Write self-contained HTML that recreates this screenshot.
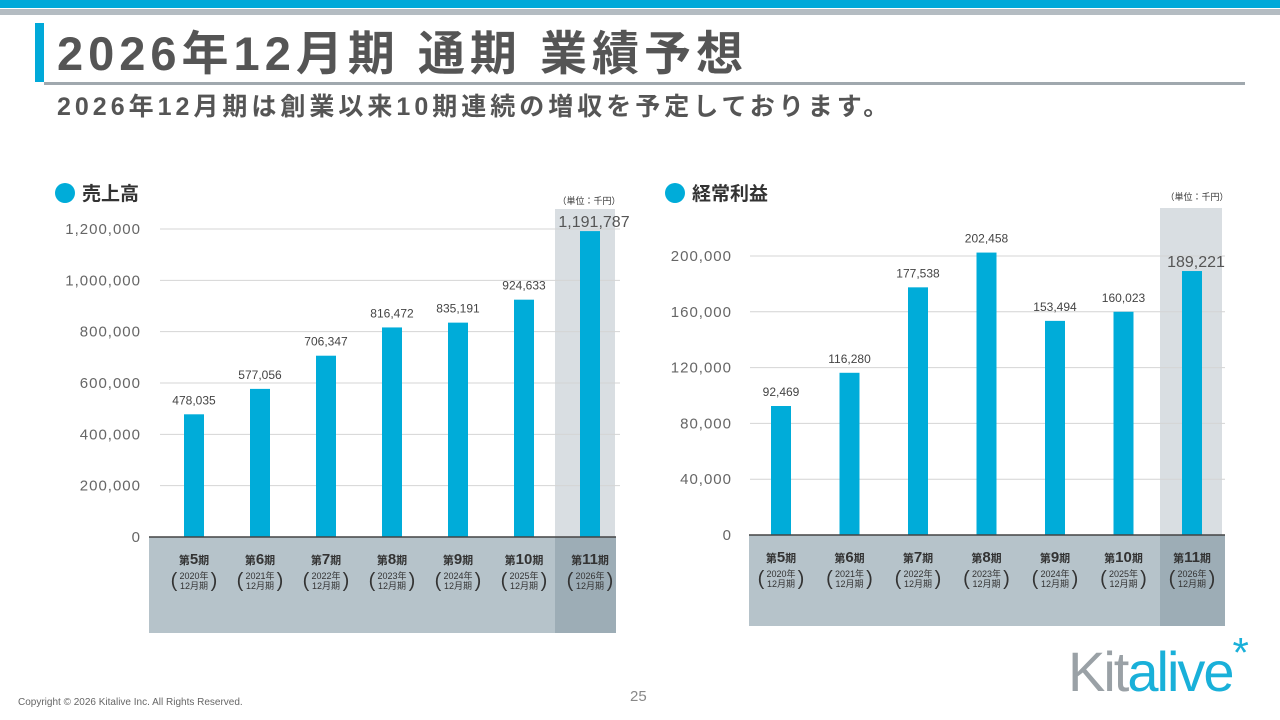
<!DOCTYPE html>
<html><head><meta charset="utf-8">
<style>
body{margin:0;width:1280px;height:720px;position:relative;background:#fff;overflow:hidden;font-family:"Liberation Sans","Noto Sans CJK JP",sans-serif;color:#555}
.abs{position:absolute}
</style></head>
<body>
<div class="abs" style="left:0;top:0;width:1280px;height:8px;background:#00a9d9"></div>
<div class="abs" style="left:0;top:9px;width:1280px;height:6px;background:#b4bcc2"></div>
<div class="abs" style="left:35px;top:23px;width:9px;height:59px;background:#00a9d9"></div>
<div class="abs" style="left:44px;top:82px;width:1201px;height:3px;background:#a0a8ae"></div>
<div class="abs" style="left:57px;top:24px;font-size:47px;font-weight:bold;color:#555;line-height:60px;white-space:nowrap;letter-spacing:5px">2026年12月期 通期 業績予想</div>
<div class="abs" style="left:57px;top:90px;font-size:25px;font-weight:bold;color:#555;line-height:34px;white-space:nowrap;letter-spacing:4px">2026年12月期は創業以来10期連続の増収を予定しております。</div>

<svg class="abs" style="left:0;top:0" width="1280" height="720" id="charts"></svg>

<div class="abs" style="left:18px;top:697px;font-size:10px;color:#666">Copyright © 2026 Kitalive Inc. All Rights Reserved.</div>
<div class="abs" style="left:630px;top:688px;font-size:15px;color:#888">25</div>
<div class="abs" style="left:1068px;top:642px;font-size:56px;line-height:60px;letter-spacing:-2px;white-space:nowrap"><span style="color:#9aa1a6">Kit</span><span style="color:#19b0d9">alive</span><span style="color:#19b0d9;font-size:42px;position:relative;top:-24px">*</span></div>

<script>
const categories=["5","6","7","8","9","10","11"];
const years=["2020","2021","2022","2023","2024","2025","2026"];
const salesValues=[478035,577056,706347,816472,835191,924633,1191787];
const salesTicks=[0,200000,400000,600000,800000,1000000,1200000];
const profitValues=[92469,116280,177538,202458,153494,160023,189221];
const profitTicks=[0,40000,80000,120000,160000,200000];

const svg=document.getElementById('charts');
const NS='http://www.w3.org/2000/svg';
function mk(tag,attrs,text){const e=document.createElementNS(NS,tag);for(const k in attrs)e.setAttribute(k,attrs[k]);if(text!==undefined)e.textContent=text;svg.appendChild(e);return e;}
const fmt=v=>v.toLocaleString('en-US');

function chart(o){
  const y=v=>o.y0-(v/o.max)*(o.y0-o.yTop);
  const x=i=>o.x0+o.step*i;
  let e=mk('rect',{x:o.hx,y:o.hy,width:o.hw,height:o.y0-o.hy,fill:'#d9dee2'});
  
  
  o.ticks.forEach(t=>{
    if(t>0){let g=mk('line',{x1:o.gx1,x2:o.gx2,y1:y(t),y2:y(t),stroke:'#d4d4d4','stroke-width':1});
    
    }
    let l=mk('text',{x:o.tx,y:y(t)+5,'text-anchor':'end','font-size':15,'letter-spacing':1,fill:'#666'},fmt(t));
    
    
  });
  e=mk('rect',{x:o.bx,y:o.y0,width:o.bw,height:o.bh,fill:'#b6c3ca'});
  
  
  e=mk('rect',{x:o.hx,y:o.y0,width:o.bx+o.bw-o.hx,height:o.bh,fill:'#9dadb6'});
  
  
  o.values.forEach((v,i)=>{
    let b=mk('rect',{x:x(i)-10,y:y(v),width:20,height:o.y0-y(v),fill:'#00acd9'});
    
    
    const last=i===o.values.length-1;
    let t=mk('text',{x:x(i)+(last?4:0),y:y(v)-(last?4:10),'text-anchor':'middle','font-size':last?16:12,fill:last?'#555':'#444'},fmt(v));
    
    
    t=mk('text',{x:x(i),y:o.y0+27,'text-anchor':'middle','font-size':11,'font-weight':'bold',fill:'#333'});
    t.innerHTML='第<tspan font-size="15">'+categories[i]+'</tspan>期';
    
    
    t=mk('text',{x:x(i),y:o.y0+42,'text-anchor':'middle','font-size':9,fill:'#333'},years[i]+'年');
    
    
    t=mk('text',{x:x(i),y:o.y0+52,'text-anchor':'middle','font-size':9,fill:'#333'},'12月期');
    
    
    t=mk('text',{x:x(i)-20,y:o.y0+50,'text-anchor':'middle','font-size':20,fill:'#333','font-weight':'lighter'},'(');
    
    
    t=mk('text',{x:x(i)+20,y:o.y0+50,'text-anchor':'middle','font-size':20,fill:'#333','font-weight':'lighter'},')');
    
    
  });
  e=mk('line',{x1:o.bx,x2:o.bx+o.bw,y1:o.y0,y2:o.y0,stroke:'#444','stroke-width':1.5});
  
  
  e=mk('circle',{cx:o.lx,cy:193,r:10,fill:'#00acd9'});
  
  
  e=mk('text',{x:o.lx+17,y:200,'font-size':19,'font-weight':'bold',fill:'#333'},o.title);
  
  
  e=mk('text',{x:o.ux,y:o.uy,'text-anchor':'middle','font-size':9,fill:'#333'},'（単位：千円）');
  
  
}
chart({id:'sales',values:salesValues,ticks:salesTicks,max:1200000,y0:537,yTop:229,x0:194,step:66,
  gx1:160,gx2:620,tx:141,hx:555,hy:209,hw:60,bx:149,bw:467,bh:96,lx:65,title:'売上高',ux:589,uy:204});
chart({id:'profit',values:profitValues,ticks:profitTicks,max:200000,y0:535,yTop:256,x0:781,step:68.5,
  gx1:750,gx2:1225,tx:732,hx:1160,hy:208,hw:62,bx:749,bw:476,bh:91,lx:675,title:'経常利益',ux:1197,uy:200});
</script>
</body></html>
